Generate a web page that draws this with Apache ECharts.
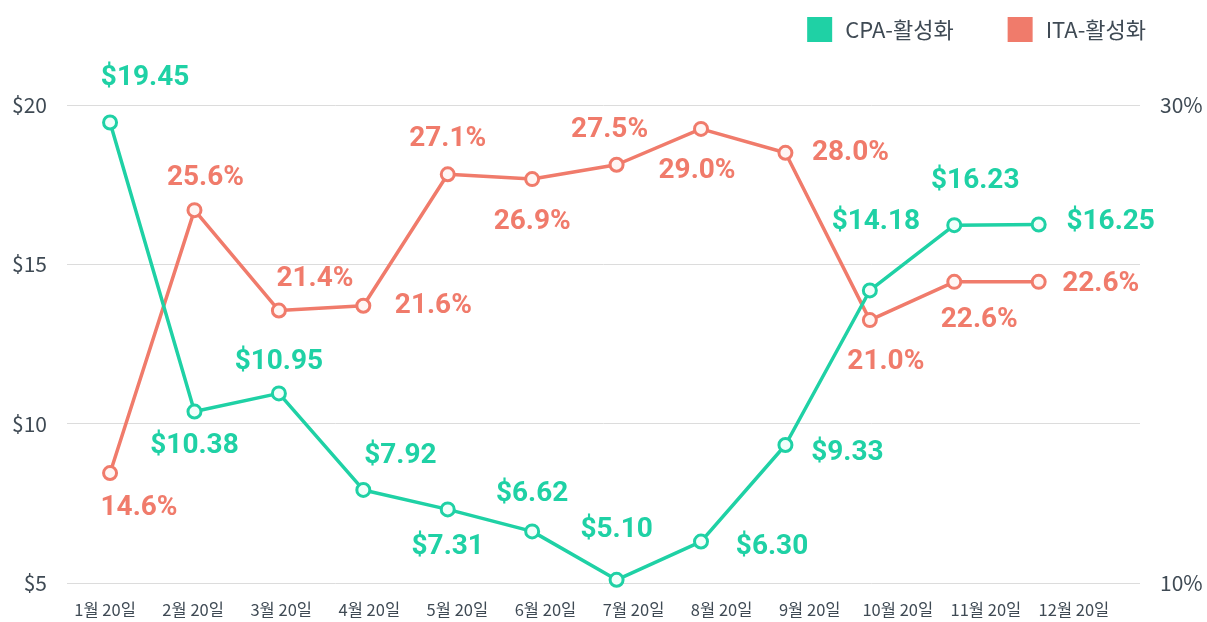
<!DOCTYPE html>
<html>
<head>
<meta charset="utf-8">
<script src="https://cdn.jsdelivr.net/npm/echarts@6/dist/echarts.min.js"></script>
<style>
  html, body { margin: 0; padding: 0; background: #fff; }
  #chart { width: 1207px; height: 622px; }
</style>
</head>
<body>
<div id="chart"></div>
<script>
const months = ["1월 20일", "2월 20일", "3월 20일", "4월 20일", "5월 20일", "6월 20일",
  "7월 20일", "8월 20일", "9월 20일", "10월 20일", "11월 20일", "12월 20일"];
const cpaValues = [19.45, 10.38, 10.95, 7.92, 7.31, 6.62, 5.10, 6.30, 9.33, 14.18, 16.23, 16.25];
const itaValues = [14.6, 25.6, 21.4, 21.6, 27.1, 26.9, 27.5, 29.0, 28.0, 21.0, 22.6, 22.6];
const leftTicks = [5, 10, 15, 20];
const rightTicks = [10, 30];

// label offsets around each point
const cpaLabelOffsets = [[35, -45], [0, 34], [0, -31], [37, -34], [0, 38], [0, -37],
  [0, -50], [71, 5], [62, 8], [6, -68], [21, -44], [72, -3]];
const itaLabelOffsets = [[29, 35], [11, -32], [36, -32], [70, 0], [0, -35], [0, 43],
  [-7, -35], [-4, 42], [65, 0], [16, 42], [25, 38], [62, 2]];

const green = "#1fd1a5";
const salmon = "#f07b6b";
const axisText = "#3f4a54";

function buildData(values, offsets, fmt) {
  return values.map((v, i) => ({
    value: [i, v],
    label: { offset: offsets[i], formatter: fmt(v) }
  }));
}

const chart = echarts.init(document.getElementById("chart"));

const labelStyle = color => ({
  show: true,
  position: "inside",
  align: "center",
  verticalAlign: "middle",
  color: color,
  fontFamily: "Roboto",
  fontWeight: "bold",
  fontSize: 28
});

chart.setOption({
  animation: false,
  backgroundColor: "#fff",
  legend: {
    right: 56,
    top: 12,
    icon: "rect",
    itemWidth: 23,
    itemHeight: 23,
    itemGap: 54,
    textStyle: {
      fontFamily: "Noto Sans CJK KR",
      fontSize: 22,
      color: axisText,
      padding: [0, 0, 0, 9]
    },
    data: [
      { name: "CPA-활성화", itemStyle: { color: green } },
      { name: "ITA-활성화", itemStyle: { color: salmon } }
    ]
  },
  grid: [
    { left: 67, right: 67, top: 105, bottom: 39 },
    { left: 61, right: 89, top: 105, bottom: 39 }
  ],
  xAxis: [
    {
      type: "value",
      gridIndex: 0,
      min: -0.51,
      max: 12.2,
      show: false
    },
    {
      type: "category",
      gridIndex: 1,
      data: months,
      boundaryGap: true,
      axisLine: { show: false },
      axisTick: { show: false },
      axisLabel: {
        interval: 0,
        margin: 18,
        fontFamily: "Noto Sans CJK KR",
        fontSize: 16.5,
        color: axisText
      }
    }
  ],
  yAxis: [
    {
      type: "value",
      gridIndex: 0,
      min: 5,
      max: 20,
      interval: 5,
      axisLine: { show: false },
      axisTick: { show: false },
      splitLine: { lineStyle: { color: "#dcdcdc", width: 1 } },
      axisLabel: {
        margin: 20,
        fontFamily: "Noto Sans CJK KR",
        fontSize: 21,
        color: axisText,
        formatter: v => leftTicks.includes(v) ? "$" + v : ""
      }
    },
    {
      type: "value",
      gridIndex: 0,
      position: "right",
      min: 10,
      max: 30,
      interval: 10,
      axisLine: { show: false },
      axisTick: { show: false },
      splitLine: { show: false },
      axisLabel: {
        margin: 20,
        fontFamily: "Noto Sans CJK KR",
        fontSize: 21,
        color: axisText,
        formatter: v => rightTicks.includes(v) ? v + "%" : ""
      }
    },
    {
      type: "value",
      gridIndex: 1,
      show: false
    }
  ],
  series: [
    {
      name: "CPA-활성화",
      type: "line",
      xAxisIndex: 0,
      yAxisIndex: 0,
      data: buildData(cpaValues, cpaLabelOffsets, v => "$" + v.toFixed(2)),
      symbol: "circle",
      symbolSize: 13,
      color: green,
      lineStyle: { color: green, width: 3.5 },
      itemStyle: { color: "#f2fffb", borderColor: green, borderWidth: 3 },
      label: labelStyle(green),
      z: 3
    },
    {
      name: "ITA-활성화",
      type: "line",
      xAxisIndex: 0,
      yAxisIndex: 1,
      data: buildData(itaValues, itaLabelOffsets, v => v.toFixed(1) + "%"),
      symbol: "circle",
      symbolSize: 13,
      color: salmon,
      lineStyle: { color: salmon, width: 3.5 },
      itemStyle: { color: "#fff6f4", borderColor: salmon, borderWidth: 3 },
      label: labelStyle(salmon),
      z: 2
    }
  ]
});
</script>
</body>
</html>
